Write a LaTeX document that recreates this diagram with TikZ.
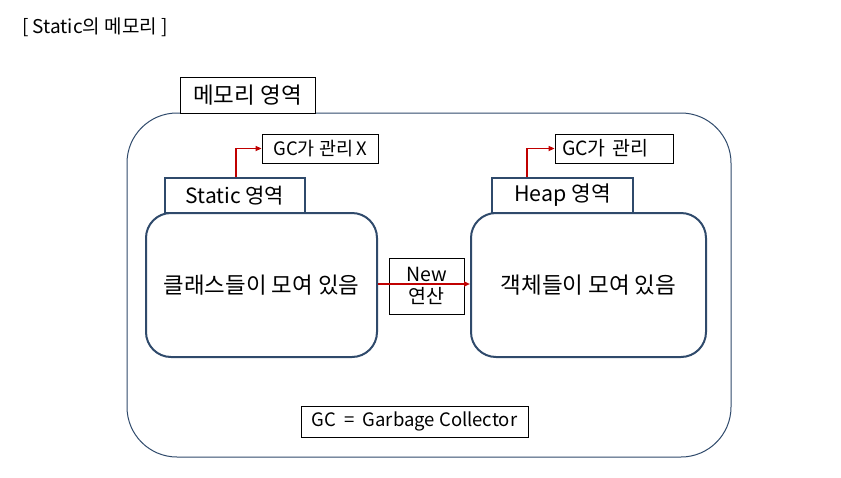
\documentclass[tikz,border=0pt]{standalone}
\usepackage{fontspec}
\setmainfont{Noto Sans CJK KR}
\usetikzlibrary{arrows.meta}
\definecolor{navy}{HTML}{2F4A6B}
\definecolor{redline}{HTML}{C00000}
\tikzset{
  thinbox/.style={draw=black, line width=0.8pt, fill=white, rectangle, inner sep=0pt},
  areabox/.style={draw=navy, line width=2pt, fill=white, rectangle, inner sep=0pt},
  roundarea/.style={draw=navy, line width=2pt, rectangle, rounded corners=25pt, inner sep=0pt},
  redarrow/.style={draw=redline, line width=1.5pt, -{Triangle[length=6pt,width=5pt]}},
}
\begin{document}
\begin{tikzpicture}[x=1pt,y=-1pt]
\useasboundingbox (0,0) rectangle (841,477);
\node[anchor=west, font=\fontsize{19}{22}\selectfont, inner sep=0pt] (title) at (22,27) {[ Static의 메모리 ]};
% outer area
\node[draw=navy, line width=1pt, rectangle, rounded corners=50pt, minimum width=604pt, minimum height=344pt, inner sep=0pt] (outer) at (429,285) {};
\node[thinbox, minimum width=135pt, minimum height=36pt, font=\fontsize{22.5}{24}\selectfont] (mem) at (247.5,95) {메모리 영역};
% left
\node[roundarea, minimum width=231pt, minimum height=144pt, font=\fontsize{22.4}{24}\selectfont] (lrect) at (261.5,285) {클래스들이 모여 있음};
\node[areabox, minimum width=140pt, minimum height=35pt, font=\fontsize{21}{23}\selectfont] (sbox) at (235,195.5) {Static 영역};
\node[thinbox, minimum width=116pt, minimum height=29pt, font=\fontsize{18.5}{20}\selectfont] (gcx) at (320,148.5) {GC가 관리\hspace{3pt}X};
% right
\node[roundarea, minimum width=235pt, minimum height=144pt, font=\fontsize{22.5}{24}\selectfont] (rrect) at (588.5,285) {객체들이 모여 있음};
\node[areabox, minimum width=141pt, minimum height=35pt, font=\fontsize{21.4}{23}\selectfont] (hbox) at (562.5,195.5) {Heap 영역};
\node[thinbox, minimum width=118pt, minimum height=29pt, inner xsep=7pt, text width=104pt, align=left, font=\fontsize{19.5}{21}\selectfont] (gch) at (614,148.5) {GC가 관리};
% new
\node[thinbox, minimum width=75pt, minimum height=56pt, align=center, font=\fontsize{19.5}{22}\selectfont] (new) at (426.5,286) {New\\연산};
% GC legend
\node[thinbox, minimum width=227pt, minimum height=31pt, font=\fontsize{18.5}{20}\selectfont] (legend) at (414.5,421.5) {GC\hspace{4pt} = \hspace{4pt}Garbage Collector};
% arrows
\draw[redarrow] ([xshift=1pt]sbox.north) |- (gcx.west);
\draw[redarrow] ([xshift=-35.5pt]hbox.north) |- (gch.west);
\draw[redarrow] ([yshift=1pt]lrect.east) -- ([yshift=1pt]rrect.west);
\end{tikzpicture}
\end{document}
